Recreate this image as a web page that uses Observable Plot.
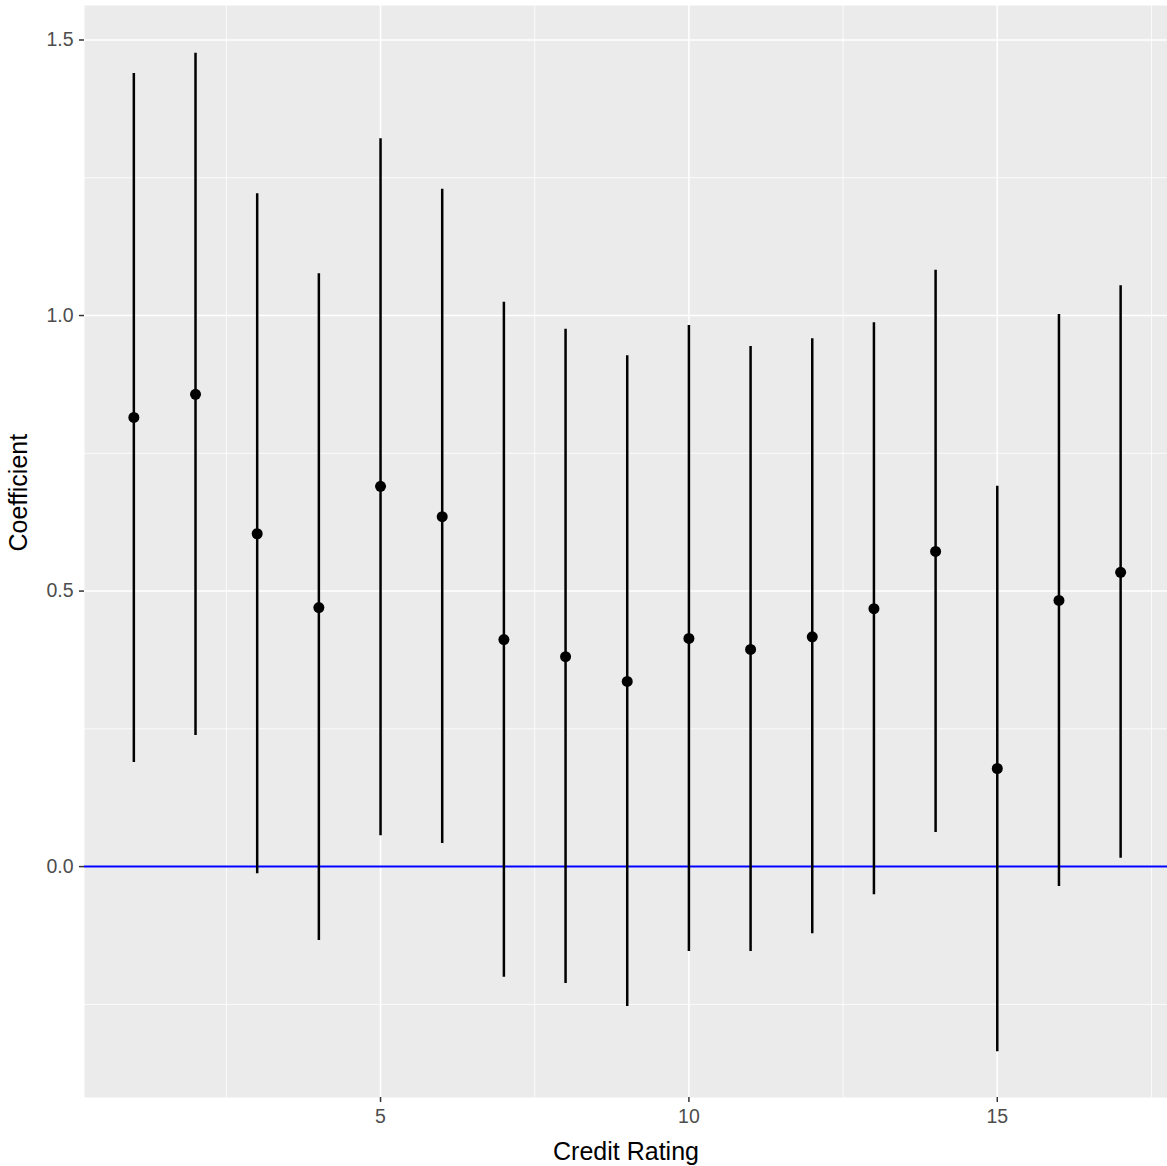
<!DOCTYPE html>
<html>
<head>
<meta charset="utf-8">
<script src="https://cdn.jsdelivr.net/npm/d3@7"></script>
<script src="https://cdn.jsdelivr.net/npm/@observablehq/plot@0.6"></script>
<style>
  body { margin: 0; background: #fff; }
  svg { font-family: "Liberation Sans", Arial, sans-serif; }
</style>
</head>
<body>
<div id="chart"></div>
<script>
const rating = [1, 2, 3, 4, 5, 6, 7, 8, 9, 10, 11, 12, 13, 14, 15, 16, 17];
const coef = [0.815, 0.857, 0.604, 0.470, 0.690, 0.635, 0.412, 0.381, 0.336, 0.414, 0.394, 0.417, 0.468, 0.572, 0.178, 0.483, 0.534];
const lower = [0.189, 0.238, -0.013, -0.134, 0.056, 0.042, -0.201, -0.212, -0.254, -0.154, -0.154, -0.122, -0.051, 0.062, -0.336, -0.036, 0.015];
const upper = [1.439, 1.476, 1.221, 1.076, 1.321, 1.229, 1.024, 0.975, 0.927, 0.982, 0.944, 0.958, 0.987, 1.082, 0.690, 1.002, 1.054];
const xMajor = [5, 10, 15];
const xMinor = [2.5, 7.5, 12.5, 17.5];
const yMajor = [0, 0.5, 1.0, 1.5];
const yMinor = [-0.25, 0.25, 0.75, 1.25];

const data = rating.map((r, i) => ({rating: r, coef: coef[i], lo: lower[i], hi: upper[i]}));

const chart = Plot.plot({
  width: 1167,
  height: 1166,
  marginLeft: 84,
  marginRight: 0,
  marginTop: 5,
  marginBottom: 69,
  x: {domain: [0.2, 17.76]},
  y: {domain: [-0.419, 1.5626]},
  style: {fontFamily: "Liberation Sans, Arial, sans-serif"},
  marks: [
    Plot.frame({fill: "#EBEBEB", stroke: null}),
    Plot.gridX(xMinor, {stroke: "white", strokeOpacity: 1, strokeWidth: 0.8}),
    Plot.gridY(yMinor, {stroke: "white", strokeOpacity: 1, strokeWidth: 0.8}),
    Plot.gridX(xMajor, {stroke: "white", strokeOpacity: 1, strokeWidth: 1.6}),
    Plot.gridY(yMajor, {stroke: "white", strokeOpacity: 1, strokeWidth: 1.6}),
    Plot.axisX(xMajor, {tickSize: 5, stroke: "#333", strokeWidth: 1.5, text: null, label: null}),
    Plot.axisY(yMajor, {tickSize: 5, stroke: "#333", strokeWidth: 1.5, text: null, label: null}),
    Plot.text(xMajor, {x: d => d, frameAnchor: "bottom", lineAnchor: "top", dy: 12, fontSize: 19.5, fill: "#4d4d4d"}),
    Plot.text(yMajor, {y: d => d, text: d3.format(".1f"), frameAnchor: "left", textAnchor: "end", dx: -11, fontSize: 19.5, fill: "#4d4d4d"}),
    Plot.text(["Credit Rating"], {frameAnchor: "bottom", lineAnchor: "middle", dy: 54, fontSize: 25, fill: "black"}),
    Plot.text(["Coefficient"], {frameAnchor: "left", dx: -66, rotate: -90, fontSize: 25, fill: "black"}),
    Plot.ruleY([0], {stroke: "blue", strokeWidth: 2}),
    Plot.ruleX(data, {x: "rating", y1: "lo", y2: "hi", stroke: "black", strokeWidth: 2.5}),
    Plot.dot(data, {x: "rating", y: "coef", r: 5.5, fill: "black", stroke: null})
  ]
});

document.getElementById("chart").append(chart);
</script>
</body>
</html>
